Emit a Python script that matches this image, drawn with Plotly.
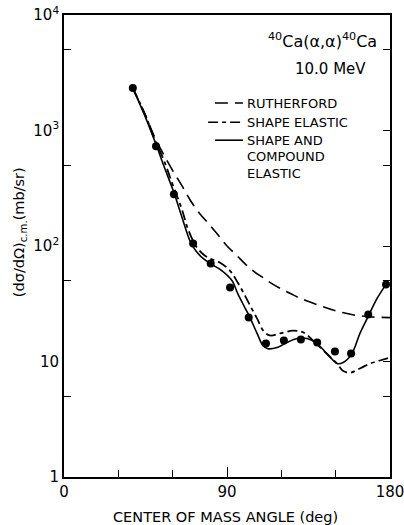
import plotly.graph_objects as go

# Measured 40Ca(alpha,alpha)40Ca elastic cross sections at 10.0 MeV
exp_angle = [38.0, 50.8, 60.7, 71.3, 81.0, 91.7, 102.0, 111.5, 121.4, 130.8, 139.8, 149.6, 158.5, 168.0, 177.8]
exp_xs = [2330, 731, 280, 105, 70.6, 43.7, 24.0, 14.3, 15.2, 15.5, 14.6, 12.2, 11.7, 25.5, 46.5]

# Rutherford cross section
ruth_angle = [38, 45, 50, 55, 60, 65, 70, 75, 80, 85, 90, 95, 100, 105, 110, 115, 120, 125, 130, 140, 150, 160, 170, 180]
ruth_xs = [2330, 1350, 880, 620, 450, 335, 245, 190, 155, 125, 100, 84, 70, 60, 53, 47, 42.5, 38.8, 35.5, 31, 27.5, 25.3, 24.3, 24]

# Shape elastic calculation
se_angle = [38, 45, 50, 55, 60, 65, 68.5, 73.4, 79, 86, 91.7, 96, 100, 103, 106.6, 110, 113.7, 119.3, 126.4, 132, 137.5, 145, 150.7, 154, 158, 163.4, 169, 174.5, 180]
se_xs = [2330, 1350, 840, 560, 340, 210, 140, 97, 80, 72, 61, 48, 37, 30, 23.6, 18.5, 16.8, 17.5, 18.5, 17.9, 15.2, 11.7, 9.6, 8.3, 8.0, 8.7, 9.6, 10.2, 10.8]

# Shape plus compound elastic calculation
sc_angle = [38, 45, 50.8, 55, 60.7, 65, 69.6, 73, 76.8, 81, 86, 92.8, 96, 100, 102.7, 106.6, 109.9, 112.6, 117.6, 123.1, 128.7, 134.2, 139.7, 145.2, 150.7, 154.1, 159, 163.4, 167.9, 172.8, 177.8]
sc_xs = [2330, 1300, 760, 500, 290, 180, 110, 90, 78, 70, 63, 50, 38.5, 29, 24, 17.5, 13.7, 12.9, 13.2, 14.6, 15.8, 15.8, 14.3, 11.7, 9.6, 9.8, 11.7, 17.5, 24.5, 35, 46.5]

x_ticks = [0, 90, 180]
x_minor = [30, 60, 120, 150]
y_ticks = [1, 10, 100, 1000, 10000]
y_ticktext = ["1", "10", "10<sup>2</sup>", "10<sup>3</sup>", "10<sup>4</sup>"]
y_minor = [5, 50, 500, 5000]
y_right = [5, 10, 50, 100, 500, 1000, 5000]

FONT = "DejaVu Sans"
INK = "black"
RUTH_DASH = "13px,7px"
SE_DASH = "10px,4px,4px,4px"

fig = go.Figure()
fig.add_trace(go.Scatter(x=ruth_angle, y=ruth_xs, mode="lines",
                         line=dict(color=INK, width=1.6, dash=RUTH_DASH, shape="spline"),
                         showlegend=False))
fig.add_trace(go.Scatter(x=se_angle, y=se_xs, mode="lines",
                         line=dict(color=INK, width=1.8, dash=SE_DASH, shape="spline"),
                         showlegend=False))
fig.add_trace(go.Scatter(x=sc_angle, y=sc_xs, mode="lines",
                         line=dict(color=INK, width=1.6, shape="spline", smoothing=0.8),
                         showlegend=False))
fig.add_trace(go.Scatter(x=exp_angle, y=exp_xs, mode="markers",
                         marker=dict(color=INK, size=8), showlegend=False))
# right-hand tick axis
fig.add_trace(go.Scatter(x=[], y=[], yaxis="y2", showlegend=False))

fig.update_layout(
    width=404, height=525,
    margin=dict(l=64, r=14, t=15, b=48, autoexpand=False),
    paper_bgcolor="white", plot_bgcolor="white",
    font=dict(family=FONT, color=INK, size=14),
    xaxis=dict(range=[0, 180], tickvals=x_ticks, ticktext=[str(v) for v in x_ticks],
               ticks="inside", ticklen=10, tickwidth=1.4, tickcolor=INK,
               minor=dict(tickvals=x_minor, ticks="inside", ticklen=7, tickwidth=1.4, tickcolor=INK),
               showline=True, linecolor=INK, linewidth=1.8, mirror=True,
               showgrid=False, zeroline=False, tickfont=dict(size=15),
               ticklabeloverflow="allow", automargin=False),
    yaxis=dict(type="log", range=[0, 4], tickvals=y_ticks, ticktext=y_ticktext,
               ticks="", showline=True, linecolor=INK, linewidth=1.8, mirror=True,
               minor=dict(tickvals=y_minor, ticks="inside", ticklen=7, tickwidth=1.4, tickcolor=INK),
               showgrid=False, zeroline=False, tickfont=dict(size=15), automargin=False),
    yaxis2=dict(type="log", range=[0, 4], overlaying="y", side="right",
                tickvals=y_right, ticks="inside", ticklen=7, tickwidth=1.4, tickcolor=INK,
                showticklabels=False, showgrid=False, zeroline=False, showline=False,
                automargin=False),
)

# legend drawn inside the frame
legend_rows = [
    (0.463, 0.8095, RUTH_DASH, "RUTHERFORD"),
    (0.442, 0.768, SE_DASH, "SHAPE ELASTIC"),
    (0.463, 0.729, "solid", "SHAPE AND"),
]
for x0, yy, dash, label in legend_rows:
    fig.add_shape(type="line", xref="paper", yref="paper", x0=x0, x1=0.549, y0=yy, y1=yy,
                  line=dict(color=INK, width=1.6, dash=dash))
    fig.add_annotation(xref="paper", yref="paper", x=0.556, y=yy, text=label, showarrow=False,
                       xanchor="left", yanchor="middle", font=dict(size=13))
for yy, label in [(0.693, "COMPOUND"), (0.656, "ELASTIC")]:
    fig.add_annotation(xref="paper", yref="paper", x=0.556, y=yy, text=label, showarrow=False,
                       xanchor="left", yanchor="middle", font=dict(size=13))

fig.add_annotation(xref="paper", yref="paper", x=0.966, y=0.944,
                   text="<sup>40</sup>Ca(α,α)<sup>40</sup>Ca", showarrow=False,
                   xanchor="right", yanchor="middle", font=dict(size=16))
fig.add_annotation(xref="paper", yref="paper", x=0.932, y=0.883, text="10.0 MeV",
                   showarrow=False, xanchor="right", yanchor="middle", font=dict(size=15))

# axis titles
fig.add_annotation(xref="paper", yref="paper", x=0.494, y=-0.0866,
                   text="CENTER OF MASS ANGLE (deg)", showarrow=False,
                   xanchor="center", yanchor="middle", font=dict(size=14.5))
fig.add_annotation(xref="paper", yref="paper", x=-0.135, y=0.53,
                   text="(dσ/dΩ)<sub>c.m.</sub>(mb/sr)", showarrow=False, textangle=-90,
                   xanchor="center", yanchor="middle", font=dict(size=14.5))

fig.write_html("out.html")
